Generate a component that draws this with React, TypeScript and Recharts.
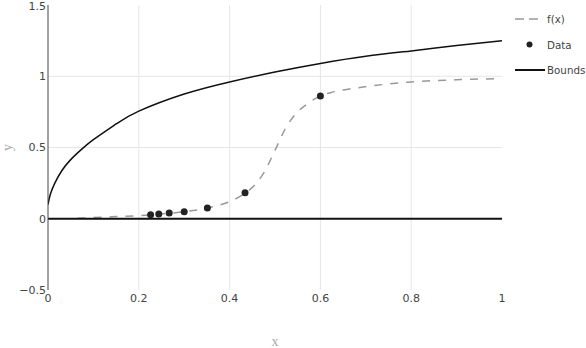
import {
  ComposedChart,
  Line,
  Scatter,
  XAxis,
  YAxis,
  CartesianGrid,
} from 'recharts'

const boundX = [0, 0.005, 0.015, 0.03, 0.05, 0.075, 0.1, 0.15, 0.2, 0.3, 0.4, 0.5, 0.6, 0.7, 0.8, 0.9, 1.0]
const boundUpper = [0.1, 0.17, 0.25, 0.335, 0.415, 0.49, 0.555, 0.665, 0.755, 0.875, 0.96, 1.03, 1.09, 1.14, 1.178, 1.215, 1.25]
const lowerX = [0, 1]
const lowerY = [0, 0]

const fxX = [0.065, 0.1, 0.15, 0.2, 0.25, 0.3, 0.35, 0.4, 0.425, 0.45, 0.475, 0.5, 0.525, 0.55, 0.575, 0.6, 0.625, 0.65, 0.7, 0.8, 0.9, 1.0]
const fxY = [0.004, 0.008, 0.015, 0.022, 0.034, 0.049, 0.075, 0.12, 0.16, 0.22, 0.32, 0.48, 0.645, 0.75, 0.815, 0.862, 0.887, 0.903, 0.927, 0.96, 0.975, 0.984]

const dataX = [0.226, 0.244, 0.267, 0.3, 0.351, 0.434, 0.6]
const dataY = [0.028, 0.033, 0.04, 0.049, 0.075, 0.182, 0.862]

const xTicks = [0, 0.2, 0.4, 0.6, 0.8, 1]
const yTicks = [-0.5, 0, 0.5, 1, 1.5]

const legendItems = [
  { name: 'f(x)', kind: 'dash' },
  { name: 'Data', kind: 'dot' },
  { name: 'Bounds', kind: 'line' },
]

const zip = (xs: number[], ys: number[]) => xs.map((x, i) => ({ x, y: ys[i] }))

const tickStyle = { fontSize: 11, fill: '#444', fontFamily: 'DejaVu Sans, sans-serif' }

function YTitle({ viewBox }: any) {
  const cx = viewBox.x + 7
  const cy = viewBox.y + viewBox.height / 2
  return (
    <text
      x={cx}
      y={cy}
      transform={`rotate(-90 ${cx} ${cy})`}
      textAnchor="middle"
      dominantBaseline="central"
      fontFamily="serif"
      fontSize={14}
      fill="#aaa"
    >
      y
    </text>
  )
}

function XTitle({ viewBox }: any) {
  const cx = viewBox.x + viewBox.width / 2
  return (
    <text x={cx} y={346} textAnchor="middle" fontFamily="serif" fontSize={14} fill="#aaa">
      x
    </text>
  )
}

function ChartLegend() {
  return (
    <svg width={80} height={80} style={{ position: 'absolute', left: 506, top: 0, overflow: 'visible' }}>
      {legendItems.map((item, i) => {
        const y = 19 + i * 25.5
        return (
          <g key={item.name}>
            {item.kind === 'dash' && (
              <line x1={9} x2={32} y1={y} y2={y} stroke="#999" strokeWidth={1.5} strokeDasharray="9 5" />
            )}
            {item.kind === 'dot' && <circle cx={23.5} cy={y} r={3} fill="#222" />}
            {item.kind === 'line' && <line x1={9} x2={39} y1={y} y2={y} stroke="#111" strokeWidth={2} />}
            <text
              x={41}
              y={y}
              dominantBaseline="central"
              fontSize={10.3}
              fill="#444"
              fontFamily="DejaVu Sans, sans-serif"
            >
              {item.name}
            </text>
          </g>
        )
      })}
    </svg>
  )
}

export default function App() {
  const upper = zip(boundX, boundUpper)
  const lower = zip(lowerX, lowerY)
  const fx = zip(fxX, fxY)
  const points = zip(dataX, dataY)

  return (
    <div style={{ position: 'absolute', left: 0, top: 0, width: 586, height: 348, background: '#fff' }}>
      <ComposedChart width={586} height={348} margin={{ top: 5, right: 84, bottom: 0, left: 0 }}>
        <CartesianGrid
          stroke="#e6e6e6"
          horizontalValues={[0.5, 1]}
          verticalValues={[0.2, 0.4, 0.6, 0.8]}
        />
        <XAxis
          type="number"
          dataKey="x"
          domain={[0, 1]}
          ticks={xTicks}
          axisLine={false}
          tickLine={false}
          tickSize={0}
          tickMargin={4}
          height={58}
          tick={tickStyle}
          allowDataOverflow
          label={<XTitle />}
        />
        <YAxis
          type="number"
          dataKey="y"
          domain={[-0.5, 1.5]}
          ticks={yTicks}
          tickFormatter={(v: number) => (v < 0 ? `\u2212${Math.abs(v)}` : `${v}`)}
          axisLine={{ stroke: '#444', strokeWidth: 1 }}
          tickLine={false}
          tickSize={0}
          tickMargin={2}
          width={48}
          tick={tickStyle}
          allowDataOverflow
          label={<YTitle />}
        />
        <Line
          data={fx}
          dataKey="y"
          type="monotone"
          stroke="#999"
          strokeWidth={1.5}
          strokeDasharray="8 8"
          dot={false}
          isAnimationActive={false}
        />
        <Line
          data={upper}
          dataKey="y"
          type="natural"
          stroke="#111"
          strokeWidth={1.5}
          dot={false}
          isAnimationActive={false}
        />
        <Line
          data={lower}
          dataKey="y"
          type="linear"
          stroke="#111"
          strokeWidth={2}
          dot={false}
          isAnimationActive={false}
        />
        <Scatter data={points} dataKey="y" fill="#222" shape={(p: any) => <circle cx={p.cx} cy={p.cy} r={3.5} fill="#222" />} isAnimationActive={false} />
      </ComposedChart>
      <ChartLegend />
    </div>
  )
}
